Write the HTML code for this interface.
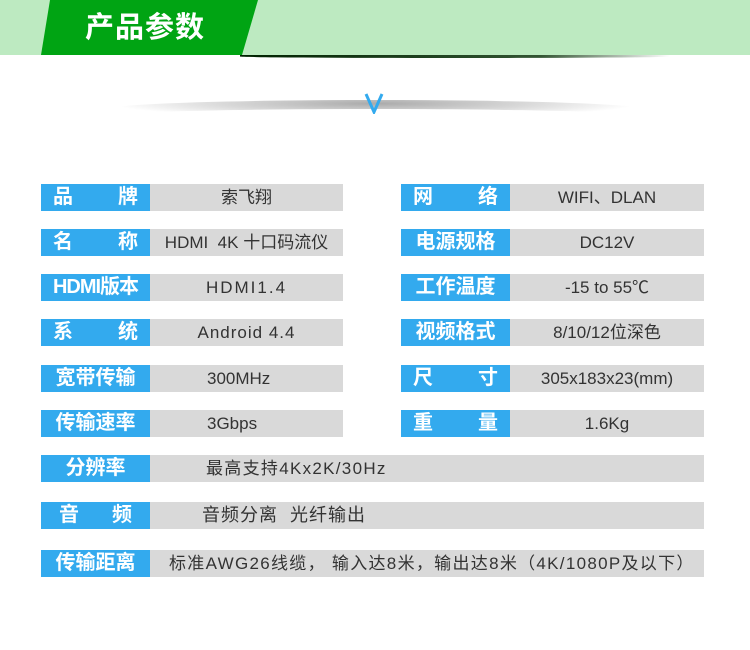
<!DOCTYPE html>
<html><head><meta charset="utf-8"><style>
body{margin:0;width:750px;height:650px;background:#fff;position:relative;overflow:hidden;font-family:"Liberation Sans","Noto Sans CJK SC",sans-serif}
.a{position:absolute}
.l{position:absolute;background:#33aaee;color:#fff;font-weight:bold;font-size:20px;height:27px;line-height:27px;width:109px;box-sizing:border-box;white-space:nowrap}
.v{position:absolute;background:#d9d9d9;color:#333;font-size:17px;height:27px;line-height:27px;text-align:center;white-space:nowrap}
.sp{display:flex;justify-content:space-between;padding:0 12px}
.c{text-align:center}
</style></head><body>
<div class="a" style="left:0;top:0;width:750px;height:55px;background:#bdeac1"></div>
<div class="a" style="left:240px;top:55px;width:430px;height:3px;background:linear-gradient(to right,#002200,#335533 70%,rgba(0,0,0,0));border-radius:0 0 50% 50%"></div>
<svg class="a" style="left:0;top:0" width="300" height="56"><polygon points="50,0 258,0 242,55 41,55" fill="#00a413"/></svg>
<div class="a" style="left:85px;top:8px;color:#fff;font-weight:bold;font-size:29px;line-height:40px;letter-spacing:1px">产品参数</div>
<div class="a" style="left:110px;top:100px;width:530px;height:18px;border-radius:50%;background:radial-gradient(ellipse at 50% 20%,#aaa 0%,#d8d8d8 40%,rgba(255,255,255,0) 70%)"></div>
<div class="a" style="left:110px;top:109px;width:530px;height:14px;background:#fff;border-radius:50%"></div>
<svg class="a" style="left:364px;top:92px" width="20" height="22"><polyline points="2,2 10,20 18,2" fill="none" stroke="#33aaee" stroke-width="3"/></svg>

<div class="l sp" style="left:41px;top:184px"><span>品</span><span>牌</span></div><div class="v" style="left:150px;top:184px;width:193px">索飞翔</div>
<div class="l sp" style="left:41px;top:229px"><span>名</span><span>称</span></div><div class="v" style="left:150px;top:229px;width:193px">HDMI&nbsp; 4K 十口码流仪</div>
<div class="l c" style="left:41px;top:274px;letter-spacing:-1px">HDMI版本</div><div class="v" style="left:150px;top:274px;width:193px;letter-spacing:2px">HDMI1.4</div>
<div class="l sp" style="left:41px;top:319px"><span>系</span><span>统</span></div><div class="v" style="left:150px;top:319px;width:193px;letter-spacing:1px">Android 4.4</div>
<div class="l c" style="left:41px;top:365px">宽带传输</div><div class="v" style="left:150px;top:365px;width:193px;text-align:left;padding-left:57px;box-sizing:border-box">300MHz</div>
<div class="l c" style="left:41px;top:410px">传输速率</div><div class="v" style="left:150px;top:410px;width:193px;text-align:left;padding-left:57px;box-sizing:border-box">3Gbps</div>

<div class="l sp" style="left:401px;top:184px"><span>网</span><span>络</span></div><div class="v" style="left:510px;top:184px;width:194px">WIFI、DLAN</div>
<div class="l c" style="left:401px;top:229px">电源规格</div><div class="v" style="left:510px;top:229px;width:194px">DC12V</div>
<div class="l c" style="left:401px;top:274px">工作温度</div><div class="v" style="left:510px;top:274px;width:194px">-15 to 55℃</div>
<div class="l c" style="left:401px;top:319px">视频格式</div><div class="v" style="left:510px;top:319px;width:194px">8/10/12位深色</div>
<div class="l sp" style="left:401px;top:365px"><span>尺</span><span>寸</span></div><div class="v" style="left:510px;top:365px;width:194px">305x183x23(mm)</div>
<div class="l sp" style="left:401px;top:410px"><span>重</span><span>量</span></div><div class="v" style="left:510px;top:410px;width:194px">1.6Kg</div>

<div class="l c" style="left:41px;top:455px">分辨率</div><div class="v" style="left:150px;top:455px;width:554px;text-align:left;padding-left:56px;box-sizing:border-box;letter-spacing:1.3px">最高支持4Kx2K/30Hz</div>
<div class="l sp" style="left:41px;top:502px;padding:0 18px"><span>音</span><span>频</span></div><div class="v" style="left:150px;top:502px;width:554px;text-align:left;padding-left:52px;box-sizing:border-box;font-size:18px;letter-spacing:1px">音频分离&nbsp; 光纤输出</div>
<div class="l c" style="left:41px;top:550px">传输距离</div><div class="v" style="left:150px;top:550px;width:554px;text-align:left;padding-left:19px;box-sizing:border-box;font-size:17px;letter-spacing:1.3px">标准AWG26线缆， 输入达8米，输出达8米（4K/1080P及以下）</div>
</body></html>
